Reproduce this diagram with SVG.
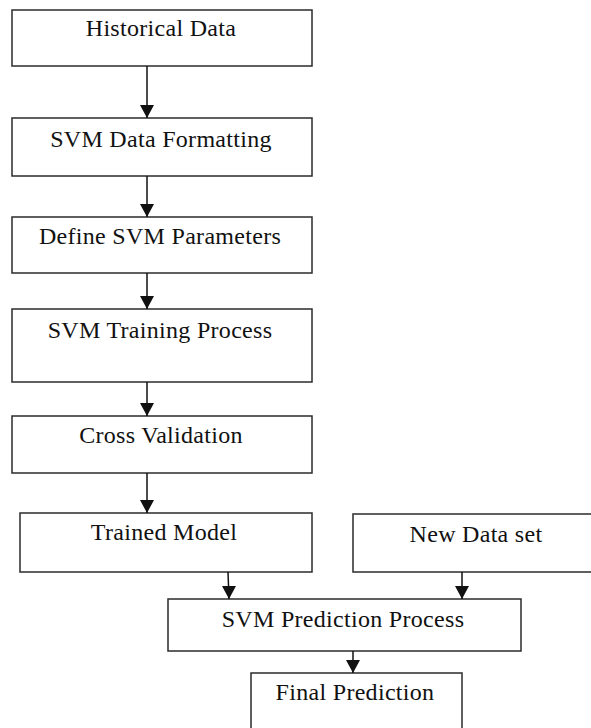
<svg xmlns="http://www.w3.org/2000/svg" width="591" height="728" viewBox="0 0 591 728">
  <style>
    .box { fill: #ffffff; stroke: #2b2b2b; stroke-width: 1.5; }
    .label { font-family: "Liberation Serif", "Times New Roman", serif; font-size: 24px; letter-spacing: 0.3px; fill: #111111; text-anchor: middle; }
    .link { stroke: #111111; stroke-width: 1.5; fill: none; marker-end: url(#arrow); }
  </style>
  <defs>
    <marker id="arrow" markerUnits="userSpaceOnUse" markerWidth="14" markerHeight="13" viewBox="0 0 14 13" refX="7" refY="13" orient="0">
      <path d="M0,0 L14,0 L7,13 Z" fill="#111111"/>
    </marker>
  </defs>
  <rect width="591" height="728" fill="#ffffff"/>

  <g id="historical-data">
    <rect class="box" x="12" y="10" width="300" height="56"/>
    <text class="label" x="161" y="36">Historical Data</text>
  </g>
  <g id="svm-data-formatting">
    <rect class="box" x="12" y="118" width="300" height="58"/>
    <text class="label" x="161" y="147">SVM Data Formatting</text>
  </g>
  <g id="define-svm-parameters">
    <rect class="box" x="12" y="217" width="300" height="56"/>
    <text class="label" x="160" y="244">Define SVM Parameters</text>
  </g>
  <g id="svm-training-process">
    <rect class="box" x="12" y="309" width="300" height="73"/>
    <text class="label" x="160" y="338">SVM Training Process</text>
  </g>
  <g id="cross-validation">
    <rect class="box" x="12" y="416" width="300" height="57"/>
    <text class="label" x="161" y="443">Cross Validation</text>
  </g>
  <g id="trained-model">
    <rect class="box" x="20" y="513" width="292" height="59"/>
    <text class="label" x="164" y="540">Trained Model</text>
  </g>
  <g id="new-data-set">
    <rect class="box" x="353" y="514" width="240" height="58"/>
    <text class="label" x="476" y="542">New Data set</text>
  </g>
  <g id="svm-prediction-process">
    <rect class="box" x="168" y="599" width="353" height="52"/>
    <text class="label" x="343" y="627">SVM Prediction Process</text>
  </g>
  <g id="final-prediction">
    <rect class="box" x="251" y="673" width="211" height="60"/>
    <text class="label" x="355" y="700">Final Prediction</text>
  </g>

  <g id="connectors">
    <line class="link" x1="147" y1="66" x2="147" y2="118"/>
    <line class="link" x1="147" y1="176" x2="147" y2="217"/>
    <line class="link" x1="147" y1="273" x2="147" y2="309"/>
    <line class="link" x1="147" y1="382" x2="147" y2="416"/>
    <line class="link" x1="147" y1="473" x2="147" y2="513"/>
    <line class="link" x1="228" y1="572" x2="229" y2="599"/>
    <line class="link" x1="462" y1="572" x2="462" y2="599"/>
    <line class="link" x1="353" y1="651" x2="353" y2="673"/>
  </g>
</svg>
